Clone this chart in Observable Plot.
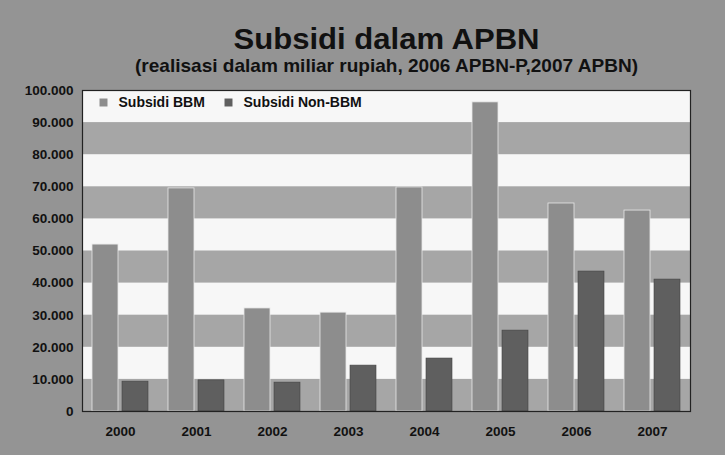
<!DOCTYPE html>
<html>
<head>
<meta charset="utf-8">
<script src="https://cdn.jsdelivr.net/npm/d3@7"></script>
<script src="https://cdn.jsdelivr.net/npm/@observablehq/plot@0.6"></script>
<style>
  html, body { margin: 0; padding: 0; background: #949494; }
  #chart svg { display: block; }
</style>
</head>
<body>
<div id="chart"></div>
<script>
const years = ["2000", "2001", "2002", "2003", "2004", "2005", "2006", "2007"];
const subsidiBBM = [52000, 69500, 32100, 30800, 69800, 96300, 64800, 62600];
const subsidiNonBBM = [9300, 9700, 9000, 14300, 16500, 25200, 43600, 41100];
const seriesNames = ["Subsidi BBM", "Subsidi Non-BBM"];
const yTicks = [0, 10000, 20000, 30000, 40000, 50000, 60000, 70000, 80000, 90000, 100000];
const bandStarts = [0, 20000, 40000, 60000, 80000];
const titleText = "Subsidi dalam APBN";
const subtitleText = "(realisasi dalam miliar rupiah, 2006 APBN-P,2007 APBN)";

const font = "'Liberation Sans', Arial, Helvetica, sans-serif";
const bbm = years.map((y, i) => ({year: y, value: subsidiBBM[i]}));
const non = years.map((y, i) => ({year: y, value: subsidiNonBBM[i]}));
const bands = bandStarts.map(s => ({y1: s, y2: s + 10000}));
const fmt = d => d3.format(",")(d).replace(/,/g, ".");

const chart = Plot.plot({
  width: 725,
  height: 455,
  marginTop: 90,
  marginBottom: 44,
  marginLeft: 82,
  marginRight: 35,
  style: {background: "#949494", fontFamily: font, fontWeight: "bold", color: "#111"},
  x: {type: "band", domain: years, paddingInner: 0.26, paddingOuter: 0.13, label: null},
  y: {domain: [0, 100000], label: null},
  marks: [
    Plot.frame({fill: "#f7f7f7"}),
    Plot.rect(bands, {y1: "y1", y2: "y2", fill: "#a6a6a6"}),
    Plot.barY(bbm, {x: "year", y: "value", fill: "#8d8d8d", stroke: "#e8e8e8", strokeWidth: 0.8, insetRight: 30}),
    Plot.barY(non, {x: "year", y: "value", fill: "#5f5f5f", stroke: "#444", strokeWidth: 0.6, insetLeft: 30}),
    Plot.frame({stroke: "#222", strokeWidth: 1.2}),
    Plot.axisY({ticks: yTicks, tickFormat: fmt, tickSize: 0, tickPadding: 9, fontSize: 13.5, fontWeight: "bold", label: null}),
    Plot.axisX({tickSize: 0, tickPadding: 15, fontSize: 13.5, fontWeight: "bold", label: null}),
    Plot.dot([seriesNames[0]], {frameAnchor: "top-left", dx: 21, dy: 12, symbol: "square", r: 4.5, fill: "#8d8d8d"}),
    Plot.text([seriesNames[0]], {frameAnchor: "top-left", lineAnchor: "middle", dx: 36, dy: 12, textAnchor: "start", fontSize: 14, fontWeight: "bold", fill: "#111"}),
    Plot.dot([seriesNames[1]], {frameAnchor: "top-left", dx: 146, dy: 12, symbol: "square", r: 4.5, fill: "#5f5f5f"}),
    Plot.text([seriesNames[1]], {frameAnchor: "top-left", lineAnchor: "middle", dx: 161, dy: 12, textAnchor: "start", fontSize: 14, fontWeight: "bold", fill: "#111"}),
    Plot.text([titleText], {frameAnchor: "top", lineAnchor: "middle", dy: -51, fontSize: 30, fontWeight: "bold", fill: "#111"}),
    Plot.text([subtitleText], {frameAnchor: "top", lineAnchor: "middle", dy: -25, fontSize: 19, fontWeight: "bold", fill: "#111"})
  ]
});
// fit heading widths to the reference's condensed type
d3.select(chart).selectAll("text").each(function() {
  const t = this.textContent;
  if (t === titleText) d3.select(this).attr("textLength", 306).attr("lengthAdjust", "spacingAndGlyphs");
  if (t === subtitleText) d3.select(this).attr("textLength", 503).attr("lengthAdjust", "spacingAndGlyphs");
});
document.getElementById("chart").appendChild(chart);
</script>
</body>
</html>
